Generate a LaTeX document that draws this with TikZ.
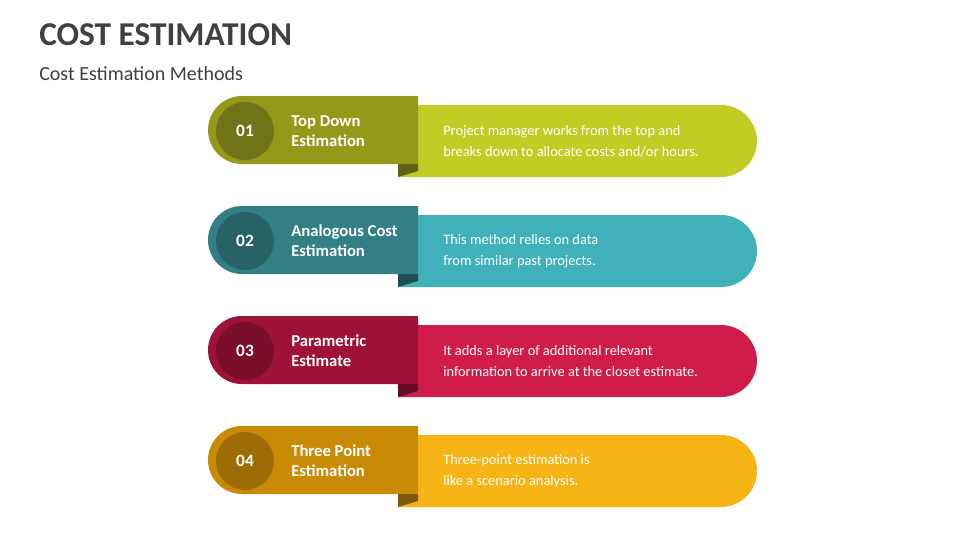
\documentclass[tikz,border=0pt]{standalone}
\usepackage{fontspec}
\setmainfont{Carlito}
\begin{document}
\begin{tikzpicture}[x=0.75pt,y=-0.75pt,
  tabtxt/.style={anchor=west,text=white,font=\bfseries\fontsize{12.5}{15}\selectfont,align=left,inner sep=0pt},
  bodytxt/.style={anchor=west,text=white,font=\fontsize{10.8}{16}\selectfont,align=left,inner sep=0pt},
  numtxt/.style={text=white,font=\bfseries\fontsize{13}{15}\selectfont}]
\useasboundingbox (0,0) rectangle (960,540);
\fill[white] (0,0) rectangle (960,540);
\node[anchor=west,inner sep=0pt,text=black!75,font=\bfseries\fontsize{25}{30}\selectfont] (title) at (39,35) {COST ESTIMATION};
\node[anchor=west,inner sep=0pt,text=black!75,font=\fontsize{15}{18}\selectfont] (sub) at (39,74) {Cost Estimation Methods};
\definecolor{t1}{HTML}{95991A}\definecolor{p1}{HTML}{C3CB25}\definecolor{c1}{HTML}{6F7418}\definecolor{f1}{HTML}{5E6214}
\definecolor{t2}{HTML}{327F86}\definecolor{p2}{HTML}{41B1B9}\definecolor{c2}{HTML}{276267}\definecolor{f2}{HTML}{1F4F53}
\definecolor{t3}{HTML}{9E1237}\definecolor{p3}{HTML}{CF1C4B}\definecolor{c3}{HTML}{7A0E2B}\definecolor{f3}{HTML}{650B23}
\definecolor{t4}{HTML}{C98A06}\definecolor{p4}{HTML}{F6B417}\definecolor{c4}{HTML}{9E6C05}\definecolor{f4}{HTML}{7E5604}
\foreach \i/\y/\n/\ta/\tb/\ba/\bb in {
 1/96/01/Top Down/Estimation/Project manager works from the top and/breaks down to allocate costs and\slash or hours.,
 2/206/02/Analogous Cost/Estimation/This method relies on data/from similar past projects.,
 3/316/03/Parametric/Estimate/It adds a layer of additional relevant/information to arrive at the closet estimate.,
 4/426/04/Three Point/Estimation/Three-point estimation is/like a scenario analysis.}{
  \fill[p\i] (398,\y+9) -- (721,\y+9) arc[start angle=90,end angle=-90,radius=27pt] -- (398,\y+81) -- cycle;
  \fill[f\i] (398,\y+68) -- (418,\y+68) -- (418,\y+75) -- (398,\y+81) -- cycle;
  \fill[t\i] (418,\y) -- (242,\y) arc[start angle=90,end angle=270,radius=25.5pt] -- (418,\y+68) -- cycle;
  \fill[c\i] (245,\y+35) circle[radius=21.75pt];
  \node[numtxt] (n\i) at (245,\y+35) {\n};
  \node[tabtxt] (h\i) at (291,\y+35) {\ta\\\tb};
  \node[bodytxt] (b\i) at (443,\y+45) {\ba\\\bb};
}
\end{tikzpicture}
\end{document}
